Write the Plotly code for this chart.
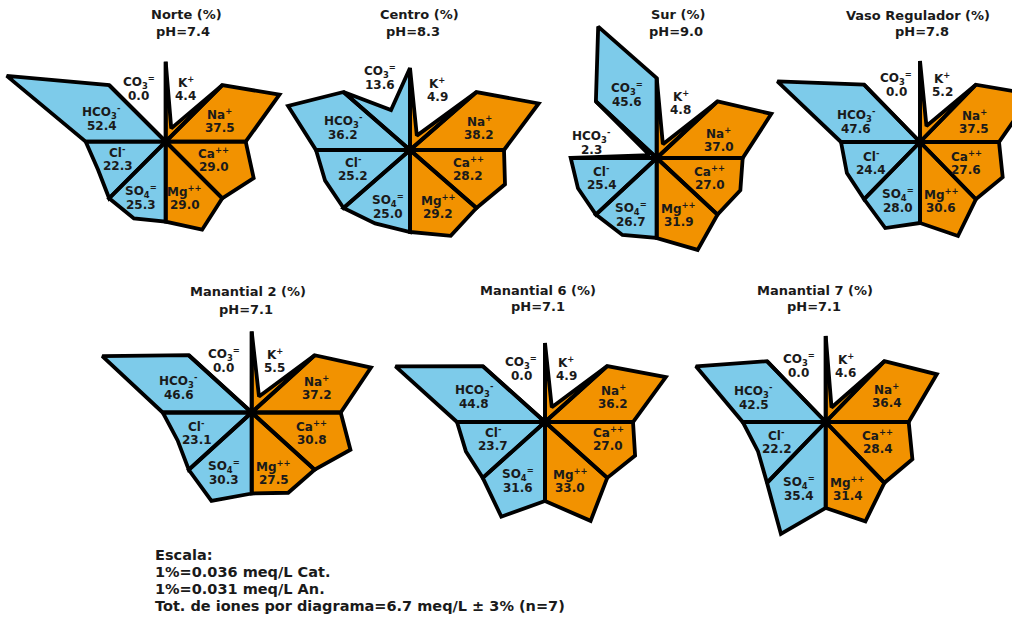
import math
import plotly.graph_objects as go

# ---- data: ionic composition (% of meq/L) per sampling site ----
SITES = ["Norte", "Centro", "Sur", "Vaso Regulador", "Manantial 2", "Manantial 6", "Manantial 7"]
PH = [7.4, 8.3, 9.0, 7.8, 7.1, 7.1, 7.1]

# cations
K = [4.4, 4.9, 4.8, 5.2, 5.5, 4.9, 4.6]
NA = [37.5, 38.2, 37.0, 37.5, 37.2, 36.2, 36.4]
CA = [29.0, 28.2, 27.0, 27.6, 30.8, 27.0, 28.4]
MG = [29.0, 29.2, 31.9, 30.6, 27.5, 33.0, 31.4]
# anions
SO4 = [25.3, 25.0, 26.7, 28.0, 30.3, 31.6, 35.4]
CL = [22.3, 25.2, 25.4, 24.4, 23.1, 23.7, 22.2]
HCO3 = [52.4, 36.2, 2.3, 47.6, 46.6, 44.8, 42.5]
CO3 = [0.0, 13.6, 45.6, 0.0, 0.0, 0.0, 0.0]

SCALE_NOTES = [
    "Escala:",
    "1%=0.036 meq/L Cat.",
    "1%=0.031 meq/L An.",
    "Tot. de iones por diagrama=6.7 meq/L \u00b1 3% (n=7)",
]

# ---- page layout (pixel units) ----
# diagram centre (cx, cy), base radius in x / y, and apex length factor
GEOM = [
    (165.7, 141.7, 80, 80, 1.00),
    (410.0, 150.0, 94, 82, 0.945),
    (656.7, 158.0, 86, 80, 0.95),
    (920.0, 142.0, 79, 81, 1.00),
    (251.7, 412.5, 89, 81, 0.95),
    (545.0, 422.0, 88, 79, 1.00),
    (825.7, 422.0, 83, 86, 0.97),
]
# title line positions: (x1, y1, x2, y2)
TITLE_POS = [
    (186.7, 14, 183, 31.7),
    (419, 14, 412.5, 31.7),
    (678, 14, 676, 31.7),
    (918, 15, 921.7, 31.7),
    (248, 291.7, 246, 309.3),
    (538, 290, 538, 306.7),
    (815, 290, 814, 306.7),
]
# ion label offsets from the centre, sector order K, Na, Ca, Mg, SO4, Cl, HCO3, CO3
LABEL_OFF = [
    [(20, -53), (54, -21), (48, 18), (19, 56), (-25, 56), (-48, 17), (-64, -23), (-27, -53)],
    [(27, -60), (69, -22), (58, 19), (28, 57), (-22, 57), (-57, 19), (-67, -22), (-30, -72)],
    [(24, -55), (62, -18), (53, 20), (22, 57), (-26, 57), (-55, 20), (-65, -15), (-30, -63)],
    [(22, -57), (54, -20), (46, 21), (21, 59), (-22, 59), (-49, 21), (-64, -20), (-24, -57)],
    [(23, -52), (65, -25), (60, 20), (22, 60), (-28, 60), (-55, 20), (-73, -25), (-28, -52)],
    [(21, -53), (68, -25), (63, 17), (25, 59), (-27, 59), (-52, 17), (-71, -25), (-24, -53)],
    [(20, -56), (61, -26), (52, 20), (22, 67), (-27, 67), (-49, 20), (-72, -24), (-27, -56)],
]

ION_NAMES = ["K<sup>+</sup>", "Na<sup>+</sup>", "Ca<sup>++</sup>", "Mg<sup>++</sup>",
             "SO<sub>4</sub><sup>=</sup>", "Cl<sup>-</sup>", "HCO<sub>3</sub><sup>-</sup>",
             "CO<sub>3</sub><sup>=</sup>"]
CATION_COLOR = "#F29200"
ANION_COLOR = "#7DCBEA"
LINE_COLOR = "#000000"
TEXT_COLOR = "#1a1a1a"
FONT = "DejaVu Sans"

# apex distance (in base radii) so that the kite area is proportional to the %:
# half of the base circle (pi/2) equals 100 %
K_APEX = (math.pi / 2) / math.sin(math.radians(22.5)) / 100.0


def kite(cx, cy, sx, sy, gain, sector, pct):
    a0 = math.radians(45 * sector)
    a1 = math.radians(45 * sector + 45)
    am = math.radians(45 * sector + 22.5)
    r = pct * K_APEX * gain
    pts = [(0, 0), (math.sin(a0), math.cos(a0)), (r * math.sin(am), r * math.cos(am)),
           (math.sin(a1), math.cos(a1)), (0, 0)]
    xs = [cx + sx * u for u, v in pts]
    ys = [cy - sy * v for u, v in pts]
    return xs, ys


fig = go.Figure()
outlines = []
annotations = []

for d, site in enumerate(SITES):
    cx, cy, sx, sy, gain = GEOM[d]
    values = [K[d], NA[d], CA[d], MG[d], SO4[d], CL[d], HCO3[d], CO3[d]]
    for s, p in enumerate(values):
        xs, ys = kite(cx, cy, sx, sy, gain, s, p)
        color = CATION_COLOR if s < 4 else ANION_COLOR
        fig.add_trace(go.Scatter(x=xs, y=ys, mode="lines", fill="toself",
                                 fillcolor=color, line=dict(width=0),
                                 hoverinfo="skip", showlegend=False))
        outlines.append((xs, ys))
        dx, dy = LABEL_OFF[d][s]
        annotations.append(dict(x=cx + dx, y=cy + dy - 7, text=ION_NAMES[s],
                                font=dict(size=12, family=FONT, color=TEXT_COLOR, weight="bold")))
        annotations.append(dict(x=cx + dx, y=cy + dy + 7, text=f"{p:.1f}",
                                font=dict(size=12, family=FONT, color=TEXT_COLOR, weight="bold")))
    x1, y1, x2, y2 = TITLE_POS[d]
    annotations.append(dict(x=x1, y=y1, text=f"{site} (%)",
                            font=dict(size=13, family=FONT, color=TEXT_COLOR, weight="bold")))
    annotations.append(dict(x=x2, y=y2, text=f"pH={PH[d]:.1f}",
                            font=dict(size=13, family=FONT, color=TEXT_COLOR, weight="bold")))

for xs, ys in outlines:
    fig.add_trace(go.Scatter(x=xs, y=ys, mode="lines",
                             line=dict(width=3.8, color=LINE_COLOR),
                             hoverinfo="skip", showlegend=False))

for i, line in enumerate(SCALE_NOTES):
    annotations.append(dict(x=153, y=555 + 17 * i, text=line, xanchor="left",
                            font=dict(size=14.5, family=FONT, color=TEXT_COLOR, weight="bold")))

for a in annotations:
    a.update(xref="x", yref="y", showarrow=False)
    a.setdefault("xanchor", "center")
    a.setdefault("yanchor", "middle")

fig.update_layout(
    width=1012, height=617,
    margin=dict(l=0, r=0, t=0, b=0),
    paper_bgcolor="white", plot_bgcolor="white",
    xaxis=dict(range=[0, 1012], visible=False, fixedrange=True),
    yaxis=dict(range=[617, 0], visible=False, fixedrange=True),
    annotations=annotations,
    showlegend=False,
)

fig.write_html("out.html")
